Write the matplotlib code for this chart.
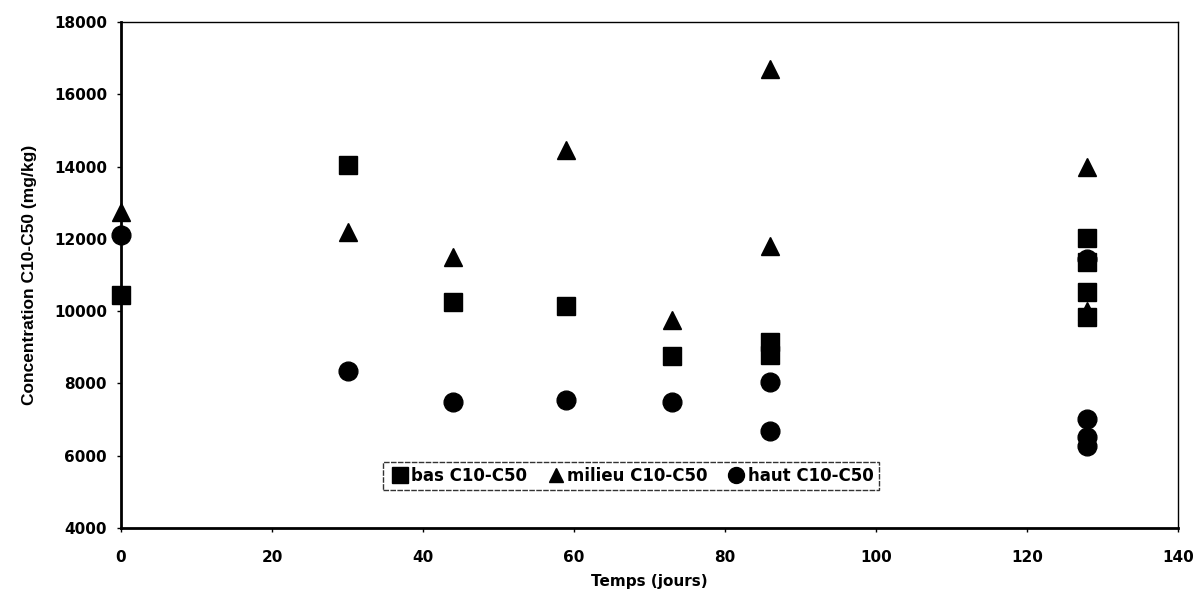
import matplotlib
matplotlib.use("Agg")
import matplotlib.pyplot as plt

plt.rcParams['font.family'] = ['DejaVu Sans']
plt.rcParams['font.weight'] = 'bold'

bas_x = [0, 30, 44, 59, 73, 86, 86, 128, 128, 128, 128]
bas_y = [10450, 14050, 10250, 10150, 8750, 9150, 8780, 12020, 11350, 10530, 9850]

milieu_x = [0, 30, 44, 59, 73, 86, 86, 128, 128]
milieu_y = [12750, 12200, 11500, 14450, 9750, 16700, 11800, 14000, 10000]

haut_x = [0, 30, 44, 59, 73, 86, 86, 128, 128, 128, 128]
haut_y = [12100, 8350, 7500, 7550, 7500, 8040, 6690, 11450, 7020, 6520, 6270]

xticks = [0, 20, 40, 60, 80, 100, 120, 140]
yticks = [4000, 6000, 8000, 10000, 12000, 14000, 16000, 18000]

fig = plt.figure(figsize=(12.02, 5.96), dpi=100)
ax = fig.add_axes([121/1202, 1-528/596, (1178-121)/1202, (528-22)/596])

ax.plot(bas_x, bas_y, 's', color='black', ms=13, ls='none', label='bas C10-C50', clip_on=False)
ax.plot(milieu_x, milieu_y, '^', color='black', ms=12.5, ls='none', label='milieu C10-C50', clip_on=False)
ax.plot(haut_x, haut_y, 'o', color='black', ms=13.5, ls='none', label='haut C10-C50', clip_on=False)

ax.set_xlim(0, 140)
ax.set_ylim(4000, 18000)
ax.set_xticks(xticks)
ax.set_yticks(yticks)
ax.tick_params(axis='both', direction='out', length=3, width=1, labelsize=11)
ax.tick_params(axis='y', pad=7)
ax.tick_params(axis='x', pad=13)
for lbl in ax.get_xticklabels() + ax.get_yticklabels():
    lbl.set_fontweight('bold')
ax.spines['left'].set_linewidth(2)
ax.spines['bottom'].set_linewidth(2)
ax.spines['top'].set_linewidth(1)
ax.spines['right'].set_linewidth(1)

ax.set_xlabel('Temps (jours)', fontsize=11, fontweight='bold', labelpad=6)
ax.set_ylabel('Concentration C10-C50 (mg/kg)', fontsize=12.5, fontweight='bold', labelpad=12,
              family='Liberation Sans')

leg = ax.legend(loc='lower left', bbox_to_anchor=((383-121)/1057, (528-490)/506),
                borderaxespad=0.0,
                ncol=3, frameon=True, fancybox=False, fontsize=12,
                handletextpad=0.0, columnspacing=1.0, borderpad=0.3,
                handlelength=1.4, markerscale=0.85)
leg.get_frame().set_edgecolor('black')
leg.get_frame().set_linewidth(1)
leg.get_frame().set_linestyle((0, (4, 1)))
for t in leg.get_texts():
    t.set_fontweight('bold')

fig.savefig('out.png', dpi=100)
